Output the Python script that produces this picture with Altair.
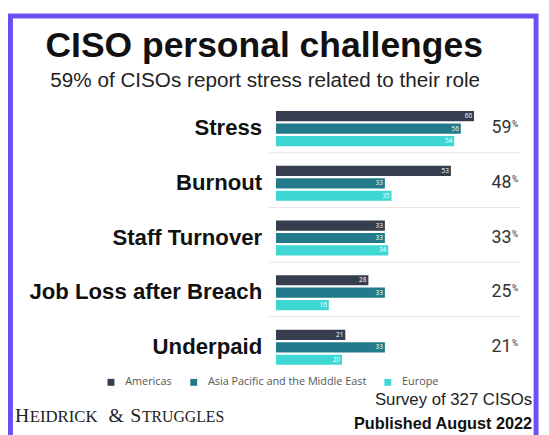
import altair as alt
import pandas as pd

categories = ["Stress", "Burnout", "Staff Turnover", "Job Loss after Breach", "Underpaid"]
regions = ["Americas", "Asia Pacific and the Middle East", "Europe"]
americas = [60, 53, 33, 28, 21]
apac = [56, 33, 33, 33, 33]
europe = [54, 35, 34, 16, 20]
totals = [59, 48, 33, 25, 21]
colors = ["#363d4f", "#237a8b", "#3ed7d3"]

rows = []
for i, c in enumerate(categories):
    for r, vals in zip(regions, [americas, apac, europe]):
        rows.append({"category": c, "region": r, "value": vals[i]})
df = pd.DataFrame(rows)
tot = pd.DataFrame({"category": categories, "total": [str(t) for t in totals]})
seps = pd.DataFrame({"category": categories[:-1]})
one = pd.DataFrame({"a": [1]})

W, H = 541, 427

yscale = alt.Scale(range=[88.2, 365.7], paddingInner=0, paddingOuter=0)
yenc = alt.Y("category:N", sort=categories, scale=yscale, axis=None)
xenc = alt.X("value:Q", scale=alt.Scale(domain=[0, 60], range=[272, 473], nice=False, zero=True), axis=None)
yoff = alt.YOffset("region:N", sort=regions,
                   scale=alt.Scale(paddingInner=0.18, paddingOuter=0.79, align=0.665))

border = alt.Chart(one).mark_rect(filled=False, stroke="#6c4ff2", strokeWidth=5).encode(
    x=alt.value(2.5), x2=alt.value(536), y=alt.value(5), y2=alt.value(470))

title = alt.Chart(one).mark_text(text="CISO personal challenges", fontSize=36, fontWeight="bold",
                                 font="Liberation Sans", color="#111", align="center",
                                 baseline="alphabetic").encode(x=alt.value(260), y=alt.value(47))
subtitle = alt.Chart(one).mark_text(text="59% of CISOs report stress related to their role", fontSize=21,
                                    font="Liberation Sans", color="#222", align="center",
                                    baseline="alphabetic").encode(x=alt.value(261), y=alt.value(77))

rules = alt.Chart(seps).mark_rule(color="#e4e4e4", strokeWidth=1).encode(
    y=alt.Y("category:N", sort=categories, scale=yscale, axis=None, bandPosition=1),
    x=alt.value(265), x2=alt.value(520))

bars = alt.Chart(df).mark_bar().encode(
    x=xenc, y=yenc, yOffset=yoff,
    color=alt.Color("region:N", sort=regions, scale=alt.Scale(domain=regions, range=colors),
                    legend=alt.Legend(title=None, orient="none", legendX=99, legendY=371,
                                      direction="horizontal", symbolType="square", symbolSize=49,
                                      symbolStrokeWidth=0, labelFontSize=11, labelFont="Open Sans",
                                      labelColor="#555", labelOffset=9, labelLimit=400,
                                      columnPadding=16, padding=0)))

vals = alt.Chart(df).mark_text(align="right", baseline="middle", dx=-2, fontSize=6.5, color="white",
                               font="Open Sans").encode(x=xenc, y=yenc, yOffset=yoff, text="value:Q")

cat_labels = alt.Chart(tot).mark_text(align="right", baseline="middle", dy=3, fontSize=22.5,
                                      fontWeight="bold", font="Liberation Sans", color="#111").encode(
    y=yenc, x=alt.value(258), text="category:N")

tot_num = alt.Chart(tot).mark_text(align="right", baseline="middle", dy=3, fontSize=18,
                                   font="Roboto", color="#333").encode(
    y=yenc, x=alt.value(511), text="total:N")
tot_pct = alt.Chart(tot).mark_text(text="%", align="left", baseline="middle", dy=-1, fontSize=8.5,
                                   font="Roboto", color="#333").encode(y=yenc, x=alt.value(511.5))

survey = alt.Chart(one).mark_text(text="Survey of 327 CISOs", fontSize=17, font="Liberation Sans",
                                  color="#222", align="right", baseline="alphabetic").encode(
    x=alt.value(532), y=alt.value(400))
published = alt.Chart(one).mark_text(text="Published August 2022", fontSize=16.5, fontWeight="bold",
                                     font="Liberation Sans", color="#111", align="right",
                                     baseline="alphabetic").encode(x=alt.value(532), y=alt.value(424))

logo_parts = [("H", 7, 20), ("EIDRICK", 22, 17), ("&", 102, 20), ("S", 124, 20), ("TRUGGLES", 136, 16)]
logo = [alt.Chart(one).mark_text(text=t, fontSize=s, font="Liberation Serif", color="#222",
                                 align="left", baseline="alphabetic").encode(x=alt.value(x), y=alt.value(417))
        for t, x, s in logo_parts]

chart = alt.layer(border, title, subtitle, rules, bars, vals, cat_labels, tot_num, tot_pct,
                  survey, published, *logo).properties(
    width=W, height=H, autosize=alt.AutoSizeParams(type="none"), padding=0,
    background="white").configure_view(stroke=None)

chart.save("out.html", embed_options={"renderer": "svg", "actions": False})
